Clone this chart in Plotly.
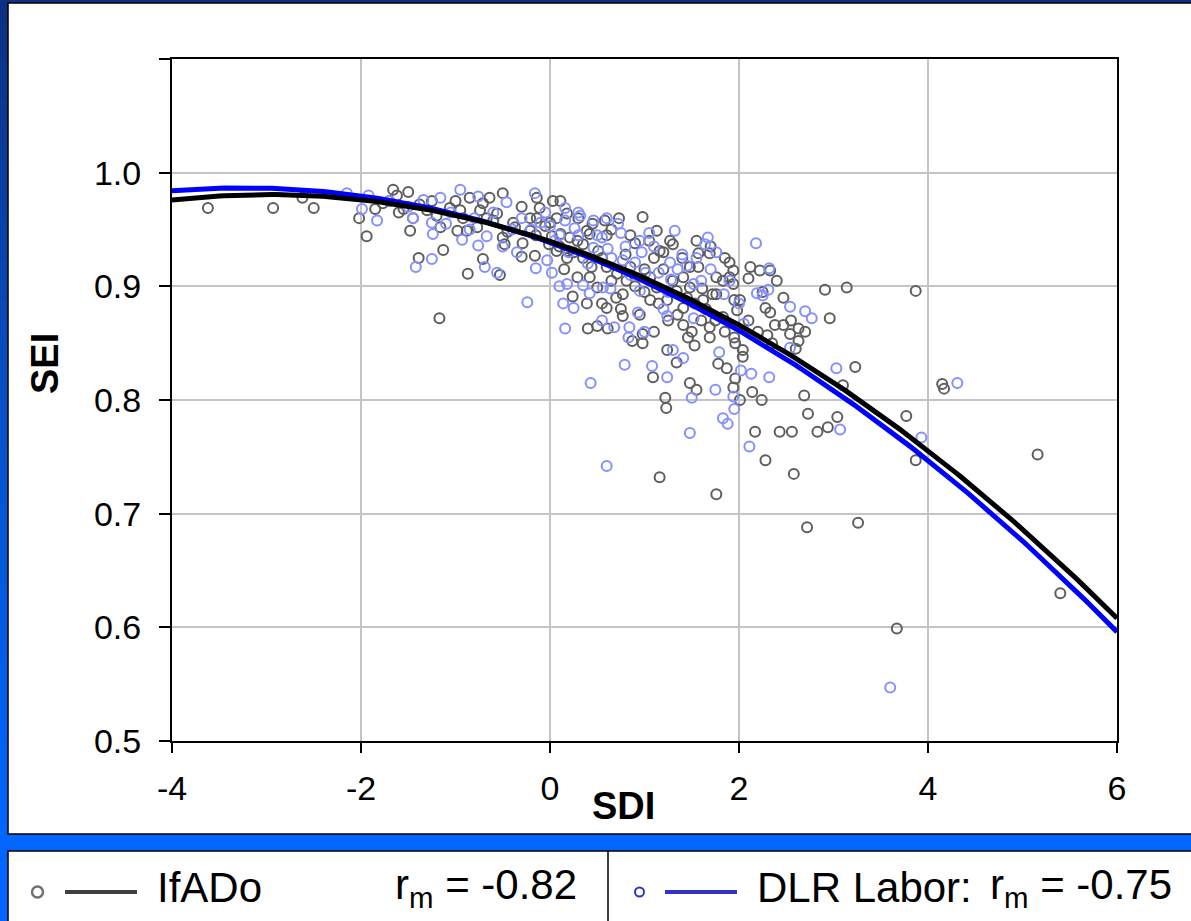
import numpy as np
import plotly.graph_objects as go

W, H = 1191, 921

# ---------------- data ----------------
ifado_sdi = [-3.62, -2.93, -2.62, -2.50, -2.02, -1.94, -1.66, -1.50, -1.48, -1.39, -1.17, -1.13, -0.87, -0.53,
             -0.71, -0.30, 0.24, 0.39, 0.40, 0.50, 0.11, -0.14, -0.50, -0.64,
             -1.77, -1.62, -1.55, -1.45, -1.30, -1.06, -0.85, -0.92, -0.77, -0.56, -0.39, -0.21, 0.00, 0.11,
             0.29, 0.42, 0.42, 0.50, 0.29, 0.07, -0.29, -0.50, -0.98, -1.16, 0.03, -0.11, -0.71, -0.67, -0.14,
             0.18, 0.39, 0.19,
             -0.95, -0.74, -0.88, -0.60, -0.37, -0.21, -0.05, 0.07, 0.02, 0.21, 0.35, 0.51, 0.44, 0.60, 0.71,
             0.81, 0.85, 1.06, 1.13, 1.06, 1.24, 1.34, 1.48, 1.41, 1.53, 1.62, 1.72, 1.61, 1.83, 1.94, 1.98,
             1.83, 1.69,
             -0.48, -0.16, -0.01, 0.18, 0.61, 0.60, 0.77, 0.87, 0.98, 0.98, 0.77, 0.98, 0.58, 0.73, 1.13,
             1.16, 1.27, 1.30, 1.41, 1.48, 1.57, 1.57, 1.69, 1.76, 1.90, 1.90, 1.94, 1.95, 2.12, 2.10, 2.22,
             2.33, 2.47, 2.28, 2.33, 2.38, 2.47, 2.54, 2.63, 2.63, 2.30, 2.91, 3.14, 2.96, 3.23, 3.10, 2.69,
             2.73, 3.04, 2.94, 2.83, 2.56, 2.43, 2.17, 2.28, 2.58, 1.76, 1.16, 1.22, 1.23, 1.09, 1.48, 1.55,
             1.34, 1.24, 1.46, 1.53, 1.41, 1.69, 1.78, 1.87, 1.96, 1.94, 2.01, 2.14, 2.24, 2.04, 2.04, 1.96,
             2.01, 1.76,
             3.26, 3.67, 2.72, 3.87, 4.15, 4.17, 3.77, 3.87, 5.16, 5.40,
             1.55, 1.70, 1.85, -1.70, -1.60, -1.85, -1.38, -1.20, -0.45, 0.60, 0.90, 1.10, 0.35, 0.80, 1.20,
             1.00, 0.70, 1.30,
             0.10, 0.25, 0.55, 0.65, 0.90, 1.00, 1.15, 1.25, 1.35, 1.50, 1.60, 1.65, 1.75, 1.85, 1.95, 2.10,
             2.20, 2.35, 0.45, 0.65, 0.85, 1.05, 1.20, 1.40, -1.00, -1.25, -0.30, -0.15, 0.30, 0.15, 0.55,
             0.75, 0.95, 1.10, 1.45, 2.40, 2.25, 2.55, 2.70, 2.60]
ifado_sei = [0.969, 0.969, 0.978, 0.969, 0.960, 0.944, 0.985, 0.983, 0.949, 0.925, 0.872, 0.932, 0.911, 0.910,
             0.924, 0.926, 0.891, 0.885, 0.863, 0.865, 0.975, 0.978, 0.982, 0.978,
             0.973, 0.980, 0.968, 0.960, 0.967, 0.969, 0.978, 0.960, 0.952, 0.964, 0.956, 0.949, 0.956, 0.946,
             0.940, 0.946, 0.908, 0.899, 0.908, 0.931, 0.938, 0.943, 0.949, 0.952, 0.975, 0.969, 0.973, 0.960,
             0.960, 0.964, 0.949, 0.931,
             0.967, 0.967, 0.949, 0.958, 0.952, 0.960, 0.953, 0.960, 0.944, 0.943, 0.937, 0.931, 0.917, 0.917,
             0.911, 0.905, 0.917, 0.908, 0.899, 0.888, 0.888, 0.896, 0.899, 0.881, 0.885, 0.888, 0.893, 0.898,
             0.905, 0.914, 0.879, 0.873, 0.864,
             0.937, 0.927, 0.937, 0.925, 0.863, 0.881, 0.874, 0.852, 0.850, 0.858, 0.893, 0.961, 0.958, 0.960,
             0.949, 0.931, 0.940, 0.937, 0.908, 0.917, 0.929, 0.917, 0.929, 0.908, 0.921, 0.908, 0.902, 0.888,
             0.917, 0.907, 0.914, 0.914, 0.890, 0.881, 0.877, 0.866, 0.866, 0.858, 0.863, 0.852, 0.857, 0.897,
             0.899, 0.872, 0.829, 0.813, 0.804, 0.788, 0.785, 0.776, 0.772, 0.772, 0.772, 0.772, 0.747, 0.735,
             0.717, 0.732, 0.802, 0.793, 0.820, 0.815, 0.809, 0.833, 0.844, 0.855, 0.848, 0.866, 0.855, 0.832,
             0.828, 0.819, 0.811, 0.800, 0.807, 0.800, 0.844, 0.838, 0.850, 0.888, 0.893,
             0.692, 0.599, 0.688, 0.896, 0.814, 0.810, 0.786, 0.747, 0.752, 0.630,
             0.940, 0.935, 0.925, 0.975, 0.965, 0.968, 0.972, 0.962, 0.948, 0.945, 0.938, 0.925, 0.925, 0.928,
             0.915, 0.895, 0.890, 0.905,
             0.935, 0.930, 0.925, 0.905, 0.900, 0.915, 0.885, 0.870, 0.875, 0.860, 0.870, 0.880, 0.870, 0.860,
             0.855, 0.870, 0.860, 0.850, 0.955, 0.950, 0.945, 0.940, 0.930, 0.925, 0.975, 0.975, 0.970, 0.945,
             0.960, 0.915, 0.885, 0.880, 0.875, 0.860, 0.890, 0.905, 0.895, 0.870, 0.860, 0.845]

dlr_sdi = [-2.15, -1.92, -1.99, -1.83, -1.34, -1.16, -0.95, -0.76, -0.46, -0.16, 0.16, -1.25, -1.24, -0.93,
           -0.76, -0.67, -0.50, -1.42, -1.25, -0.69, -0.56, -0.24, -0.15, -0.03, 0.02, 0.14, 0.16, 0.25, 0.18,
           0.35, 0.42, 0.43, 0.32, 0.46, -0.10, 0.00, 0.26, 0.46,
           0.60, 0.79, 0.68, 0.84, 0.83, 0.93, 1.08, 1.24, 1.20, 1.24, 1.30, 1.41, 1.50, 1.48, 1.52, 1.52,
           1.79, 1.75, 1.83, 1.88, 1.94, 1.95, 2.02, 2.13, 2.11, 2.32, 2.54, 2.54, 2.70, 2.77, 3.03, 3.07,
           2.18, 2.19, 2.25, 2.31, 2.32, 2.05, 1.84, 1.76, 1.67, 1.64, 1.40, 1.32, 1.27, 1.28, 1.05, 0.97,
           0.95, 0.90, 1.01, 0.77, 0.75, 0.72, 0.95, 0.55, 0.61, 0.16, 0.56, 0.64,
           3.60, 4.31, 3.93,
           -1.50, -1.10, -0.80, -0.60, -0.30, -0.20, 0.05, 0.30, 0.80, 1.15, 1.45, 1.60,
           -1.70, -1.45, -1.05, -0.85, -0.40, -0.05, 0.10, 0.20, 0.40, 0.50, 0.65, 0.85, 1.10, 1.25, 1.35,
           1.55, 1.70, 1.90, 2.00, 0.30, 0.60, -0.35, 0.10, 0.55, 1.00]
dlr_sei = [0.982, 0.980, 0.968, 0.958, 0.976, 0.978, 0.985, 0.979, 0.974, 0.982, 0.969, 0.956, 0.946, 0.941,
           0.936, 0.944, 0.935, 0.917, 0.924, 0.917, 0.912, 0.886, 0.916, 0.923, 0.912, 0.885, 0.863, 0.881,
           0.902, 0.901, 0.894, 0.815, 0.962, 0.958, 0.956, 0.953, 0.951, 0.934,
           0.742, 0.831, 0.864, 0.864, 0.855, 0.877, 0.830, 0.820, 0.880, 0.874, 0.844, 0.837, 0.802, 0.771,
           0.872, 0.902, 0.842, 0.809, 0.784, 0.779, 0.803, 0.792, 0.826, 0.823, 0.759, 0.820, 0.846, 0.882,
           0.878, 0.872, 0.828, 0.774, 0.938, 0.894, 0.892, 0.897, 0.916, 0.867, 0.893, 0.930, 0.943, 0.937,
           0.928, 0.949, 0.921, 0.906, 0.947, 0.930, 0.896, 0.921, 0.912, 0.923, 0.947, 0.955, 0.940, 0.943,
           0.933, 0.958, 0.899, 0.898,
           0.547, 0.815, 0.767,
           0.970, 0.955, 0.960, 0.965, 0.960, 0.950, 0.940, 0.945, 0.935, 0.912, 0.918, 0.905,
           0.975, 0.960, 0.965, 0.950, 0.950, 0.965, 0.945, 0.930, 0.920, 0.945, 0.925, 0.910, 0.935, 0.895,
           0.915, 0.925, 0.915, 0.905, 0.885, 0.965, 0.960, 0.930, 0.900, 0.870, 0.860]

# quadratic trendline coefficients (c0, c1, c2)
ifado_trend = [0.9396, -0.02757, -0.004617]
dlr_trend = [0.9386, -0.02965, -0.004575]

x_ticks = [-4, -2, 0, 2, 4, 6]
x_ticktext = ["-4", "-2", "0", "2", "4", "6"]
y_ticks = [0.5, 0.6, 0.7, 0.8, 0.9, 1.0, 1.1]
y_ticktext = ["0.5", "0.6", "0.7", "0.8", "0.9", "1.0", ""]

legend_ifado = ["IfADo", "r<sub>m</sub> = -0.82"]
legend_dlr = ["DLR Labor:", "r<sub>m</sub> = -0.75"]

# ---------------- helpers ----------------
def px(x):
    return x / W

def py(y):
    return 1 - y / H

FONT = "Liberation Sans, Arial, sans-serif"

fig = go.Figure()

fig.add_trace(go.Scatter(x=ifado_sdi, y=ifado_sei, mode="markers",
                         marker=dict(symbol="circle-open", size=10, color="#5e5e5e",
                                     line=dict(width=2, color="#5e5e5e")),
                         showlegend=False, hoverinfo="skip"))
fig.add_trace(go.Scatter(x=dlr_sdi, y=dlr_sei, mode="markers",
                         marker=dict(symbol="circle-open", size=10, color="#8590ff",
                                     line=dict(width=2, color="#8590ff")),
                         showlegend=False, hoverinfo="skip"))

xs = np.linspace(-4, 6, 201)
y_dlr = dlr_trend[0] + dlr_trend[1] * xs + dlr_trend[2] * xs ** 2
y_if = ifado_trend[0] + ifado_trend[1] * xs + ifado_trend[2] * xs ** 2
fig.add_trace(go.Scatter(x=xs, y=y_dlr, mode="lines", line=dict(color="#0000ff", width=5),
                         showlegend=False, hoverinfo="skip"))
fig.add_trace(go.Scatter(x=xs, y=y_if, mode="lines", line=dict(color="#000000", width=5),
                         showlegend=False, hoverinfo="skip"))

shapes = []
# gradient blue background
def bg_color(y):
    stops = [(0, (12, 48, 128)), (400, (8, 80, 200)), (840, (0, 102, 255)), (921, (0, 102, 255))]
    for (y0, c0), (y1, c1) in zip(stops[:-1], stops[1:]):
        if y0 <= y <= y1:
            t = (y - y0) / (y1 - y0)
            return "rgb(%d,%d,%d)" % tuple(int(round(a + (b - a) * t)) for a, b in zip(c0, c1))
    return "rgb(0,102,255)"

N = 46
for i in range(N):
    y0 = i * H / N
    y1 = (i + 1) * H / N + 1
    shapes.append(dict(type="rect", xref="paper", yref="paper", x0=0, x1=1, y0=py(y1), y1=py(y0),
                       fillcolor=bg_color((y0 + y1) / 2), line=dict(width=0), layer="below"))

# white chart panel and legend panel
shapes.append(dict(type="rect", xref="paper", yref="paper", x0=px(8), x1=px(1200), y0=py(834), y1=py(3),
                   fillcolor="white", line=dict(color="black", width=1.5), layer="below"))
shapes.append(dict(type="rect", xref="paper", yref="paper", x0=px(8), x1=px(1200), y0=py(930), y1=py(851),
                   fillcolor="white", line=dict(color="black", width=1.5), layer="below"))
shapes.append(dict(type="line", xref="paper", yref="paper", x0=px(608), x1=px(608), y0=py(851), y1=py(925),
                   line=dict(color="black", width=1.5)))

# legend symbols
ly = 892
shapes.append(dict(type="circle", xref="paper", yref="paper", x0=px(32), x1=px(43), y0=py(897.5), y1=py(886.5),
                   line=dict(color="#707070", width=2.5)))
shapes.append(dict(type="line", xref="paper", yref="paper", x0=px(65), x1=px(137), y0=py(ly), y1=py(ly),
                   line=dict(color="#404040", width=4)))
shapes.append(dict(type="circle", xref="paper", yref="paper", x0=px(635), x1=px(644), y0=py(896.5), y1=py(887.5),
                   line=dict(color="#3333cc", width=2)))
shapes.append(dict(type="line", xref="paper", yref="paper", x0=px(665), x1=px(737), y0=py(ly), y1=py(ly),
                   line=dict(color="#3333cc", width=4)))

annotations = [
    dict(text="<b>SEI</b>", x=px(45), y=py(364), xref="paper", yref="paper", showarrow=False,
         textangle=-90, font=dict(size=38, color="black", family=FONT), xanchor="center", yanchor="middle"),
    dict(text="<b>SDI</b>", x=px(623), y=py(806), xref="paper", yref="paper", showarrow=False,
         font=dict(size=38, color="black", family=FONT), xanchor="center", yanchor="middle"),
    dict(text=legend_ifado[0], x=px(155), y=py(887), xref="paper", yref="paper", showarrow=False,
         font=dict(size=42, color="black", family=FONT), xanchor="left", yanchor="middle"),
    dict(text=legend_ifado[1], x=px(393), y=py(887), xref="paper", yref="paper", showarrow=False,
         font=dict(size=42, color="black", family=FONT), xanchor="left", yanchor="middle"),
    dict(text=legend_dlr[0], x=px(755), y=py(887), xref="paper", yref="paper", showarrow=False,
         font=dict(size=42, color="black", family=FONT), xanchor="left", yanchor="middle"),
    dict(text=legend_dlr[1], x=px(988), y=py(887), xref="paper", yref="paper", showarrow=False,
         font=dict(size=42, color="black", family=FONT), xanchor="left", yanchor="middle"),
]

fig.update_layout(
    width=W, height=H,
    margin=dict(l=0, r=0, t=0, b=0, pad=0, autoexpand=False),
    paper_bgcolor="#0a50c8",
    plot_bgcolor="white",
    shapes=shapes,
    annotations=annotations,
    showlegend=False,
    xaxis=dict(domain=[px(172), px(1117)], range=[-4, 6], tickvals=x_ticks, ticktext=x_ticktext,
               ticks="outside", ticklen=10, tickwidth=2, tickcolor="black", ticklabelstandoff=6,
               showline=True, linecolor="black", linewidth=2, mirror=True,
               showgrid=True, gridcolor="#c4c4c4", gridwidth=2, zeroline=False,
               tickfont=dict(size=34, color="black", family=FONT)),
    yaxis=dict(domain=[py(741), py(59)], range=[0.5, 1.1], tickvals=y_ticks, ticktext=y_ticktext,
               ticks="outside", ticklen=11, tickwidth=2, tickcolor="black", ticklabelstandoff=11,
               showline=True, linecolor="black", linewidth=2, mirror=True,
               showgrid=True, gridcolor="#c4c4c4", gridwidth=2, zeroline=False,
               tickfont=dict(size=34, color="black", family=FONT)),
)

fig.write_html("out.html", config={"displayModeBar": False},
               post_script="document.body.style.margin='0';document.body.style.background='#0066ff';")
